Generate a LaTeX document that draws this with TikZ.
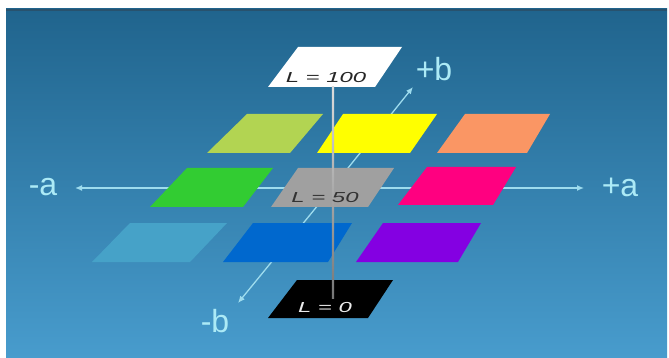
\documentclass[tikz,border=0pt]{standalone}
\usepackage{fontspec}
\setmainfont{Liberation Sans}
\usetikzlibrary{arrows.meta,calc}

\definecolor{bgtop}{RGB}{32,100,141}
\definecolor{bgbot}{RGB}{72,156,205}
\definecolor{bgedge}{RGB}{40,82,110}
\definecolor{axiscol}{RGB}{158,220,238}
\definecolor{labelcol}{RGB}{172,234,246}
\definecolor{cYellowGreen}{RGB}{178,212,82}
\definecolor{cYellow}{RGB}{255,255,0}
\definecolor{cOrange}{RGB}{250,150,100}
\definecolor{cGreen}{RGB}{50,204,50}
\definecolor{cGray}{RGB}{160,160,160}
\definecolor{cMagenta}{RGB}{255,0,128}
\definecolor{cPale}{RGB}{70,162,200}
\definecolor{cBlue}{RGB}{0,104,206}
\definecolor{cPurple}{RGB}{132,0,226}
\definecolor{stemtop}{RGB}{220,220,220}
\definecolor{stembot}{RGB}{118,118,118}

\tikzset{
  axisline/.style={draw=axiscol, line width=1.3pt,
    -{Latex[length=7pt,width=6pt]}},
  axislabel/.style={text=labelcol, font=\fontsize{32}{34}\selectfont,
    inner sep=0pt},
  lumlabel/.style={font=\fontsize{14.5}{16}\selectfont\itshape, inner sep=0pt}
}

% a plate is a sheared rectangle: fill, top y, bottom y, TL x, TR x, BR x, BL x
\newcommand\plate[7]{%
  \fill[#1] (#4,#2) -- (#5,#2) -- (#6,#3) -- (#7,#3) -- cycle;}

\begin{document}
\begin{tikzpicture}[x=1pt,y=-1pt]
  \useasboundingbox (0,0) rectangle (669,358);

  % backdrop
  \fill[white] (0,0) rectangle (669,358);
  \shade[top color=bgtop, bottom color=bgbot] (6,9) rectangle (667,358);
  \fill[bgedge] (6,9) rectangle (667,11);

  % axis end points
  \coordinate (origin) at (332,188);
  \coordinate (aneg) at (75,188);
  \coordinate (apos) at (584,188);
  \coordinate (bneg) at (238,303);
  \coordinate (bpos) at (413,87);

  % a and b axes, behind the plates
  \draw[axisline] (origin) -- (aneg);
  \draw[axisline] (origin) -- (apos);
  \draw[axisline] (origin) -- (bneg);
  \draw[axisline] (origin) -- (bpos);

  % axis labels
  \node[axislabel] (la) at (43,187) {-a};
  \node[axislabel] (lpa) at (620,187) {+a};
  \node[axislabel] (lb) at (215,321) {-b};
  \node[axislabel] (lpb) at (434,69) {+b};

  % back row
  \plate{cYellowGreen}{114}{153}{247}{323}{290}{207}
  \plate{cYellow}{114}{153}{343}{437}{410}{317}
  \plate{cOrange}{114}{153}{465}{550}{527}{437}
  % middle row
  \plate{cGreen}{168}{207}{187}{273}{243}{150}
  \plate{cGray}{168}{207}{298}{394}{368}{271}
  \plate{cMagenta}{167}{205}{427}{516}{493}{398}
  % front row
  \plate{cPale}{223}{262}{130}{227}{190}{92}
  \plate{cBlue}{223}{262}{253}{352}{328}{223}
  \plate{cPurple}{223}{262}{383}{481}{458}{356}
  % lightness extremes
  \plate{white}{47}{87}{298}{402}{375}{268}
  \plate{black}{280}{318}{297}{393}{368}{268}

  % lightness stem from L=100 down to L=0
  \coordinate (stemtop) at (333,87);
  \coordinate (stembot) at (333,298);
  \shade[top color=stemtop, bottom color=stembot]
    ($(stemtop)+(-1.2,0)$) rectangle ($(stembot)+(1.2,0)$);

  % lightness labels
  \node[lumlabel, text=black!85] (l100) at (326,78)
    {\scalebox{1.65}[1]{L = 100}};
  \node[lumlabel, text=black!80] (l50) at (325,198)
    {\scalebox{1.65}[1]{L = 50}};
  \node[lumlabel, text=white!92!black] (l0) at (325,308)
    {\scalebox{1.65}[1]{L = 0}};
\end{tikzpicture}
\end{document}
